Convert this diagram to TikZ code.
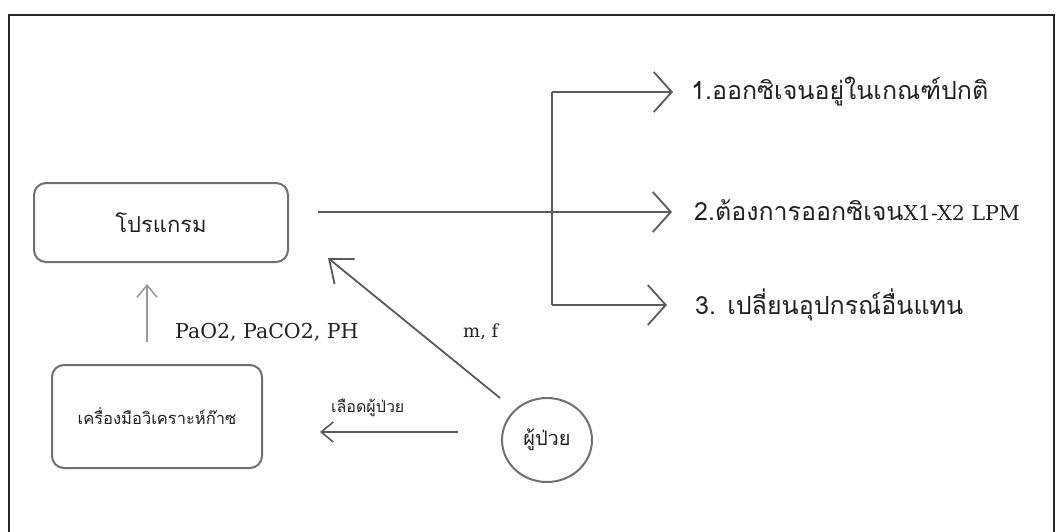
\documentclass[tikz,border=0pt]{standalone}
\usepackage{fontspec}
\setmainfont{DejaVu Serif}
\newfontfamily\thai[Script=Thai]{Loma}
\usetikzlibrary{arrows.meta,shapes.geometric}
\definecolor{linec}{HTML}{5A5A5A}
\definecolor{boxc}{HTML}{707070}
\definecolor{txtc}{HTML}{222222}
\tikzset{
  frameline/.style={draw=black!85, line width=2.4pt},
  conn/.style={draw=linec, line width=1.8pt},
  rbox/.style={draw=boxc, line width=2pt, rounded corners=12pt, text=txtc, inner sep=0pt},
  thaitxt/.style={font=\thai\fontsize{25}{30}\selectfont, text=txtc, inner sep=0pt},
  latintxt/.style={font=\fontsize{20.5}{24}\selectfont, text=txtc, inner sep=0pt},
  bighead/.style={-{Straight Barb[length=18pt,width=40pt,line width=1.8pt]}},
  smallhead/.style={-{Straight Barb[length=12pt,width=20pt,line width=1.6pt]}}
}
\begin{document}
\begin{tikzpicture}[x=1pt,y=-1pt]
\useasboundingbox (0,0) rectangle (1056,532);
\fill[white] (0,0) rectangle (1056,532);
\draw[frameline] (9,532) -- (9,15) -- (1054,15) -- (1054,532);

\node[rbox, minimum width=254pt, minimum height=79pt, font=\thai\fontsize{22}{26}\selectfont] (prog) at (161,222.5) {โปรแกรม};
\node[rbox, minimum width=210pt, minimum height=103pt, font=\thai\fontsize{16.5}{20}\selectfont] (tool) at (157,416.5) {เครื่องมือวิเคราะห์ก๊าซ};
\node[ellipse, draw=boxc, line width=2pt, minimum width=90pt, minimum height=84pt, inner sep=0pt, font=\thai\fontsize{20}{24}\selectfont, text=txtc] (pt) at (547,440) {ผู้ป่วย};

\node[thaitxt, anchor=west] (o1) at (691,92) {1.ออกซิเจนอยู่ในเกณฑ์ปกติ};
\node[thaitxt, anchor=west] (o2) at (694,210) {2.ต้องการออกซิเจน{\rmfamily\fontsize{20.5}{24}\selectfont X1-X2 LPM}};
\node[thaitxt, anchor=west] (o3) at (695,305) {3. เปลี่ยนอุปกรณ์อื่นแทน};

\node[latintxt, anchor=west] (gas) at (175,332) {PaO2, PaCO2, PH};
\node[latintxt, font=\fontsize{18}{22}\selectfont, anchor=west] (mf) at (463,332) {m, f};
\node[thaitxt, font=\thai\fontsize{16}{20}\selectfont, anchor=west] (blood) at (331,408) {เลือดผู้ป่วย};

\coordinate (jt) at (552,92);
\coordinate (jm) at (552,212);
\coordinate (jb) at (552,305);
\coordinate (tt) at (673,92);
\coordinate (tm) at (672,212);
\coordinate (tb) at (667,305);

\draw[conn, shorten <=29pt] (prog.east |- jm) -- (jm);
\draw[conn] (jt) -- (jb);
\draw[conn, bighead] (jt) -- (tt);
\draw[conn, bighead] (jm) -- (tm);
\draw[conn, bighead] (jb) -- (tb);

\draw[draw=black!40, line width=1.5pt, smallhead, shorten <=22pt, shorten >=21pt] (tool.north -| 147,0) -- (prog.south -| 147,0);
\coordinate (dtail) at (500,398);
\coordinate (dtip) at (328,258);
\draw[conn, -{Straight Barb[length=20pt,width=32pt,line width=1.8pt]}] (dtail) -- (dtip);
\coordinate (ltail) at (458,432);
\coordinate (ltip) at (320,432);
\draw[conn, smallhead] (ltail) -- (ltip);
\end{tikzpicture}
\end{document}
